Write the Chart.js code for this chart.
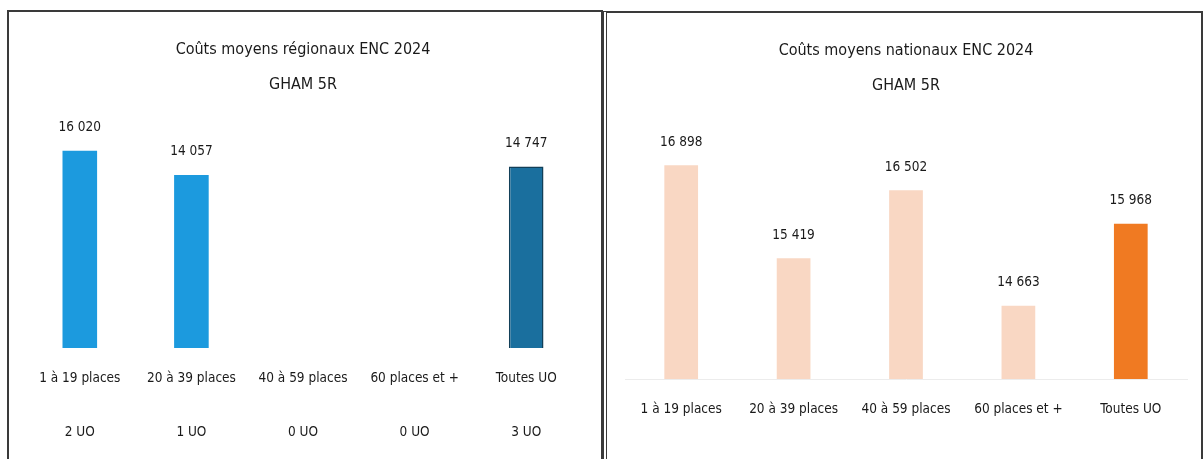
<!DOCTYPE html>
<html lang="fr">
<head>
<meta charset="utf-8">
<title>Coûts moyens ENC 2024 - GHAM 5R</title>
<script src="https://cdn.jsdelivr.net/npm/chart.js@4.4.1/dist/chart.umd.min.js"></script>
<style>
  html, body { margin: 0; padding: 0; background: #fff; overflow: hidden; }
  .panel { position: absolute; border: 2px solid #3a3a3a; background: #fff; }
  #leftPanel { left: 7px; top: 10px; width: 592px; height: 470px; }
  #rightPanel { left: 603px; top: 11px; width: 594px; height: 470px; border-left: 4px double #3a3a3a; }
  canvas { display: block; }
</style>
</head>
<body>
<div class="panel" id="leftPanel"><canvas id="regional" width="592" height="465"></canvas></div>
<div class="panel" id="rightPanel"><canvas id="national" width="594" height="447"></canvas></div>
<script>
const categories = ["1 à 19 places", "20 à 39 places", "40 à 59 places", "60 places et +", "Toutes UO"];
const nbUO = ["2 UO", "1 UO", "0 UO", "0 UO", "3 UO"];
const regionalCosts = [16020, 14057, null, null, 14747];
const nationalCosts = [16898, 15419, 16502, 14663, 15968];

const FONT = '"Liberation Sans Narrow", "DejaVu Sans Condensed", "Open Sans", sans-serif';

// "16 020" style with a space as thousands separator
function fmt(v) {
    return String(v).replace(/\B(?=(\d{3})+(?!\d))/g, ' ');
}

// draws the value just above every bar
const valueLabels = {
    id: 'valueLabels',
    afterDatasetsDraw(chart) {
        const ctx = chart.ctx;
        ctx.save();
        ctx.font = '13.5px ' + FONT;
        ctx.fillStyle = '#1a1a1a';
        ctx.textAlign = 'center';
        ctx.textBaseline = 'middle';
        chart.data.datasets.forEach((ds, i) => {
            chart.getDatasetMeta(i).data.forEach((bar, j) => {
                const v = ds.data[j];
                if (v === null || v === undefined) return;
                ctx.fillText(fmt(v), bar.x, bar.y - 23);
            });
        });
        ctx.restore();
    }
};

function title(text) {
    return {
        display: true,
        text: [text, 'GHAM 5R'],
        color: '#1a1a1a',
        font: { size: 16, family: FONT, weight: 'normal', lineHeight: 2.2 },
        padding: { top: 20, bottom: 24 }
    };
}

new Chart(document.getElementById('regional'), {
    type: 'bar',
    data: {
        labels: categories.map((c, i) => [c, '', nbUO[i]]),
        datasets: [{
            data: regionalCosts,
            backgroundColor: ['#1c9ade', '#1c9ade', '#1c9ade', '#1c9ade', '#1a6f9e'],
            borderColor: ['#1c9ade', '#1c9ade', '#1c9ade', '#1c9ade', '#123f58'],
            borderWidth: [0, 0, 0, 0, 1.5],
            barPercentage: 0.31,
            categoryPercentage: 1
        }]
    },
    options: {
        responsive: false,
        animation: false,
        layout: { padding: { left: 15, right: 19, bottom: 14 } },
        plugins: {
            legend: { display: false },
            tooltip: { enabled: false },
            title: title('Coûts moyens régionaux ENC 2024')
        },
        scales: {
            x: {
                grid: { display: false, drawTicks: false },
                border: { display: false },
                ticks: {
                    color: '#1a1a1a',
                    padding: 17,
                    font: { size: 13.5, family: FONT, lineHeight: 2 }
                }
            },
            y: { display: false, min: 0, max: 18000 }
        }
    },
    plugins: [valueLabels]
});

new Chart(document.getElementById('national'), {
    type: 'bar',
    data: {
        labels: categories,
        datasets: [{
            data: nationalCosts,
            backgroundColor: ['#f9d7c3', '#f9d7c3', '#f9d7c3', '#f9d7c3', '#f07a22'],
            barPercentage: 0.3,
            categoryPercentage: 1
        }]
    },
    options: {
        responsive: false,
        animation: false,
        layout: { padding: { left: 18, right: 14, bottom: 20 } },
        plugins: {
            legend: { display: false },
            tooltip: { enabled: false },
            title: title('Coûts moyens nationaux ENC 2024')
        },
        scales: {
            x: {
                grid: { display: false, drawTicks: false },
                border: { display: true, color: '#ececec' },
                ticks: {
                    color: '#1a1a1a',
                    padding: 17,
                    font: { size: 13.5, family: FONT, lineHeight: 2 }
                }
            },
            y: { display: false, min: 13500, max: 17500 }
        }
    },
    plugins: [valueLabels]
});
</script>
</body>
</html>
